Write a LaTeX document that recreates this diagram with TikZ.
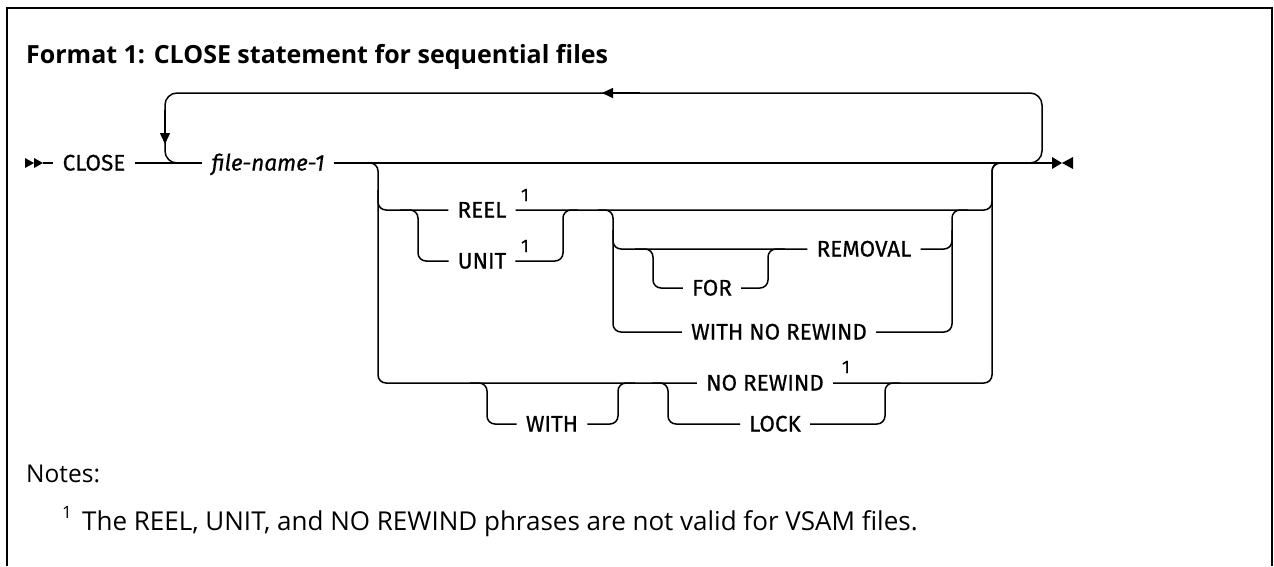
\documentclass[tikz,border=0pt]{standalone}
\usepackage{fontspec}
\setmainfont{Open Sans}
\newfontfamily\railfont{Fira Sans}[FakeBold=0.6]
\usetikzlibrary{arrows.meta}

\begin{document}
\begin{tikzpicture}[x=1pt, y=-1pt, >={Triangle[length=11pt,width=10pt]},
  rail/.style={line width=1.5pt, rounded corners=8pt},
  kw/.style={font=\railfont\fontsize{22.5}{26}\selectfont, inner xsep=9pt, inner ysep=0pt, text height=15pt, text depth=0pt},
  var/.style={kw, font=\railfont\fontsize{22.5}{26}\selectfont\itshape},
  sup/.style={font=\railfont\fontsize{18}{20}\selectfont, inner sep=0pt}]
  \useasboundingbox (0,0) rectangle (1274,566);
  % frame
  \draw[line width=2.5pt] (7,566) -- (7,8) -- (1272,8) -- (1272,566);
  \node[anchor=base west, inner sep=0pt, font=\fontsize{25}{28}\selectfont\bfseries] (title) at (26,63) {Format 1: CLOSE statement for sequential files};

  % keywords and variables
  \node[kw] (close) at (94,163) {CLOSE};
  \node[var] (fname) at (268,163) {file-name-1};
  \node[kw] (reel) at (482,210) {REEL};
  \node[sup] (reelnote) at (525,195) {1};
  \node[kw] (unit) at (482,261) {UNIT};
  \node[sup] (unitnote) at (525,246) {1};
  \node[kw] (for) at (712,288) {FOR};
  \node[kw] (removal) at (864,249) {REMOVAL};
  \node[kw] (wnr) at (779,332) {WITH NO REWIND};
  \node[kw] (with) at (552,424) {WITH};
  \node[kw] (nr) at (765,383) {NO REWIND};
  \node[sup] (nrnote) at (846,367) {1};
  \node[kw] (lock) at (775,424) {LOCK};

  % start and end marks
  \fill (25,158) -- (34,163) -- (25,168) -- cycle;
  \fill (34,158) -- (43,163) -- (34,168) -- cycle;
  \fill (1052,157) -- (1062,163) -- (1052,169) -- cycle;
  \fill (1073,157) -- (1062,163) -- (1073,169) -- cycle;

  % main line
  \draw[rail] (43,163) -- (close.west);
  \draw[rail] (close.east) -- (fname.west);
  \draw[rail] (fname.east) -- (1052,163);
  % repeat loop
  \draw[rail, rounded corners=12pt] (1025,163) -| (1042,93) -| (165,163) -- (190,163);
  \draw[rail, ->] (640,93) -- (602,93);
  \draw[rail, ->] (165,110) -- (165,144);

  % outer optional block
  \draw[rail] (360,163) -| (378,383) -- (nr.west);
  \draw[rail] (378,190) |- (400,210) -- (reel.west);
  \draw[rail] (reel.east) -| (992,163) -- (1005,163);
  \draw[rail] (nr.east) -| (992,163) -- (1005,163);
  % REEL or UNIT
  \draw[rail] (400,210) -| (418,261) -- (unit.west);
  \draw[rail] (unit.east) -| (563,210) -- (578,210);
  % REMOVAL or WITH NO REWIND
  \draw[rail] (598,210) -| (613,332) -- (wnr.west);
  \draw[rail] (613,230) |- (635,249) -- (removal.west);
  \draw[rail] (635,249) -| (653,288) -- (for.west);
  \draw[rail] (for.east) -| (768,249) -- (785,249);
  \draw[rail] (removal.east) -| (952,210) -- (968,210);
  \draw[rail] (wnr.east) -| (952,230);
  % WITH, NO REWIND or LOCK
  \draw[rail] (470,383) -| (487,424) -- (with.west);
  \draw[rail] (with.east) -| (618,383) -- (635,383);
  \draw[rail] (652,383) -| (668,424) -- (lock.west);
  \draw[rail] (lock.east) -| (885,383) -- (900,383);

  % notes
  \node[anchor=base west, inner sep=0pt, font=\fontsize{24.5}{28}\selectfont] (notes) at (26,482) {Notes:};
  \node[anchor=base west, inner sep=0pt, font=\fontsize{17}{19}\selectfont] (notemark) at (62,518) {1};
  \node[anchor=base west, inner sep=0pt, font=\fontsize{26}{30}\selectfont] (notetext) at (82,530) {The REEL, UNIT, and NO REWIND phrases are not valid for VSAM files.};
\end{tikzpicture}
\end{document}
